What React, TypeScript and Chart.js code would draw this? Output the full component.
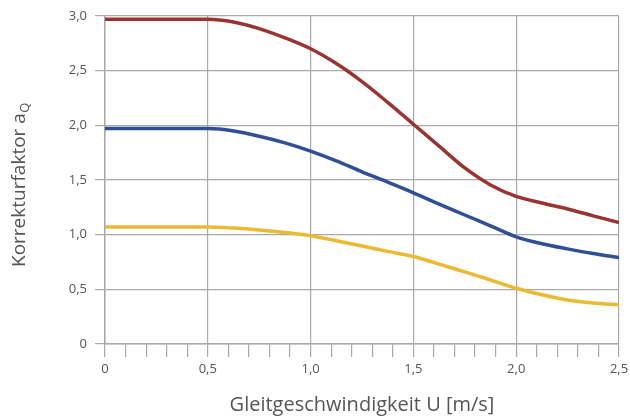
import React, { useEffect, useRef } from "react";
import { Chart, registerables } from "chart.js";

Chart.register(...registerables);

const xValues = [0, 0.125, 0.25, 0.375, 0.5, 0.625, 0.75, 0.875, 1.0, 1.125, 1.25, 1.375, 1.5, 1.625, 1.75, 1.875, 2.0, 2.125, 2.25, 2.375, 2.5];
const redValues = [2.97, 2.97, 2.97, 2.97, 2.97, 2.945, 2.885, 2.8, 2.7, 2.565, 2.4, 2.21, 2.01, 1.81, 1.61, 1.455, 1.35, 1.29, 1.235, 1.172, 1.11];
const blueValues = [1.97, 1.97, 1.97, 1.97, 1.97, 1.948, 1.9, 1.84, 1.765, 1.675, 1.575, 1.48, 1.383, 1.28, 1.18, 1.08, 0.98, 0.917, 0.87, 0.827, 0.79];
const yellowValues = [1.07, 1.07, 1.07, 1.07, 1.07, 1.06, 1.043, 1.02, 0.99, 0.945, 0.897, 0.847, 0.8, 0.73, 0.66, 0.585, 0.51, 0.45, 0.403, 0.375, 0.358];

const xTitle = "Gleitgeschwindigkeit U [m/s]";
const yTitleMain = "Korrekturfaktor a";
const yTitleSub = "Q";

const GRID = "#a9a9a9";
const TEXT = "#555555";
const FONT = "'Open Sans', sans-serif";

const fmt = (v: number) => (Math.abs(v) < 1e-9 ? "0" : v.toFixed(1).replace(".", ","));
const isMajor = (v: number) => Math.abs(v * 2 - Math.round(v * 2)) < 1e-6;

const titlePlugin = {
  id: "customTitles",
  afterDraw(chart: any) {
    const { ctx, chartArea } = chart;
    ctx.save();
    ctx.fillStyle = TEXT;
    ctx.font = `20px ${FONT}`;
    ctx.textAlign = "center";
    ctx.textBaseline = "alphabetic";
    ctx.fillText(xTitle, (chartArea.left + chartArea.right) / 2, 411);

    ctx.translate(25, (chartArea.top + chartArea.bottom) / 2 + 5);
    ctx.rotate(-Math.PI / 2);
    ctx.font = `19px ${FONT}`;
    const w1 = ctx.measureText(yTitleMain).width;
    ctx.font = `13px ${FONT}`;
    const w2 = ctx.measureText(yTitleSub).width;
    const start = -(w1 + w2) / 2;
    ctx.textAlign = "left";
    ctx.font = `19px ${FONT}`;
    ctx.fillText(yTitleMain, start, 0);
    ctx.font = `13px ${FONT}`;
    ctx.fillText(yTitleSub, start + w1 + 0.5, 4);
    ctx.restore();
  },
};

function toPoints(ys: number[]) {
  return xValues.map((x, i) => ({ x, y: ys[i] }));
}

export default function App() {
  const ref = useRef<HTMLCanvasElement>(null);
  useEffect(() => {
    document.body.style.margin = "0";
    const mk = (data: number[], color: string) => ({
      data: toPoints(data),
      borderColor: color,
      borderWidth: 3.5,
      pointRadius: 0,
      fill: false,
      cubicInterpolationMode: "monotone" as const,
    });
    const chart = new Chart(ref.current!, {
      type: "line",
      data: {
        datasets: [
          mk(redValues, "#9a3431"),
          mk(blueValues, "#2f4f99"),
          mk(yellowValues, "#ebb932"),
        ],
      },
      plugins: [titlePlugin],
      options: {
        animation: false,
        responsive: false,
        layout: { padding: { top: 16, right: 11, left: 0, bottom: 0 } },
        plugins: { legend: { display: false }, tooltip: { enabled: false } },
        scales: {
          x: {
            type: "linear",
            min: 0,
            max: 2.5,
            afterFit(scale: any) {
              scale.height = 74;
              scale.paddingRight = 0;
              scale.paddingLeft = 0;
            },
            ticks: {
              stepSize: 0.1,
              autoSkip: false,
              maxRotation: 0,
              padding: 4,
              color: TEXT,
              font: { family: FONT, size: 13 },
              callback: (v: any) => (isMajor(Number(v)) ? fmt(Number(v)) : ""),
            },
            grid: {
              color: (c: any) => (c.tick && isMajor(c.tick.value) ? GRID : "rgba(0,0,0,0)"),
              tickColor: GRID,
              tickLength: 13,
              lineWidth: 1.2,
            },
            border: { display: true, color: GRID, width: 1.5 },
          },
          y: {
            type: "linear",
            min: 0,
            max: 3,
            afterFit(scale: any) {
              scale.width = 105;
              scale.paddingTop = 0;
              scale.paddingBottom = 0;
            },
            ticks: {
              stepSize: 0.5,
              padding: 8,
              color: TEXT,
              font: { family: FONT, size: 13 },
              callback: (v: any) => fmt(Number(v)),
            },
            grid: {
              color: GRID,
              tickColor: GRID,
              tickLength: 10,
              lineWidth: 1.2,
            },
            border: { display: true, color: GRID, width: 1.5 },
          },
        },
      },
    });
    return () => chart.destroy();
  }, []);
  return (
    <div style={{ width: 630, height: 418 }}>
      <canvas ref={ref} width={630} height={418} />
    </div>
  );
}
